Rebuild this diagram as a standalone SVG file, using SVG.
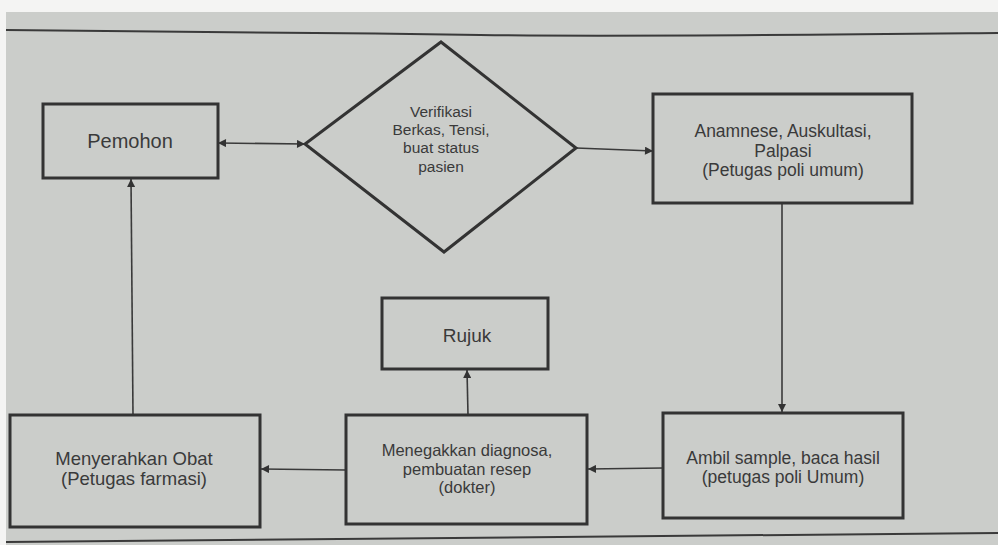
<svg xmlns="http://www.w3.org/2000/svg" width="998" height="545" viewBox="0 0 998 545">
<style>
.box{fill:none;stroke:#333;stroke-width:3}
.conn{fill:none;stroke:#3a3a3a;stroke-width:1.6}
text{font-family:"Liberation Sans",Arial,sans-serif;fill:#3a3a3a;text-anchor:middle}
.rule{fill:none;stroke:#3a3a3a;stroke-width:2}
</style>
<defs>
<marker id="ah" viewBox="0 0 10 10" refX="10" refY="5" markerWidth="11" markerHeight="8" markerUnits="userSpaceOnUse" orient="auto-start-reverse">
<path d="M0,0 L10,5 L0,10 z" fill="#333"/>
</marker>
</defs>
<rect x="0" y="0" width="998" height="545" fill="#f4f4f3"/>
<rect x="6" y="12" width="992" height="533" fill="#cbcdca"/>
<path class="rule" d="M6,30 C200,31 330,33 480,35 C620,37 800,35 998,33"/>
<path class="rule" d="M6,542 C300,540 600,537 998,533"/>

<g id="connectors">
<line class="conn" x1="218" y1="143" x2="305" y2="144" marker-start="url(#ah)" marker-end="url(#ah)"/>
<line class="conn" x1="576" y1="148" x2="653" y2="151" marker-end="url(#ah)"/>
<line class="conn" x1="782" y1="203" x2="782" y2="412" marker-end="url(#ah)"/>
<line class="conn" x1="663" y1="468" x2="588" y2="469" marker-end="url(#ah)"/>
<line class="conn" x1="468" y1="415" x2="467" y2="370" marker-end="url(#ah)"/>
<line class="conn" x1="346" y1="470" x2="261" y2="469" marker-end="url(#ah)"/>
<line class="conn" x1="133" y1="415" x2="131" y2="179" marker-end="url(#ah)"/>
</g>

<g id="pemohon">
<rect class="box" x="43" y="104" width="175" height="74"/>
<text x="130" y="148" font-size="20">Pemohon</text>
</g>

<g id="verifikasi">
<polygon class="box" points="441,42 576,148 444,252 305,144"/>
<text font-size="15.5"><tspan x="441" y="117">Verifikasi</tspan><tspan x="441" y="135">Berkas, Tensi,</tspan><tspan x="441" y="153">buat status</tspan><tspan x="441" y="172">pasien</tspan></text>
</g>

<g id="anamnese">
<rect class="box" x="653" y="94" width="259" height="109"/>
<text font-size="17.5"><tspan x="783" y="137">Anamnese, Auskultasi,</tspan><tspan x="783" y="157">Palpasi</tspan><tspan x="783" y="176">(Petugas poli umum)</tspan></text>
</g>

<g id="ambil">
<rect class="box" x="663" y="413" width="240" height="105"/>
<text font-size="17.5"><tspan x="783" y="464">Ambil sample, baca hasil</tspan><tspan x="783" y="483">(petugas poli Umum)</tspan></text>
</g>

<g id="menegakkan">
<rect class="box" x="346" y="415" width="241" height="109"/>
<text font-size="16.5"><tspan x="467" y="456">Menegakkan diagnosa,</tspan><tspan x="467" y="475">pembuatan resep</tspan><tspan x="467" y="493">(dokter)</tspan></text>
</g>

<g id="rujuk">
<rect class="box" x="382" y="298" width="166" height="71"/>
<text x="467" y="342" font-size="19">Rujuk</text>
</g>

<g id="menyerahkan">
<rect class="box" x="10" y="415" width="250" height="112"/>
<text font-size="18.5"><tspan x="134" y="465">Menyerahkan Obat</tspan><tspan x="134" y="485">(Petugas farmasi)</tspan></text>
</g>
</svg>
